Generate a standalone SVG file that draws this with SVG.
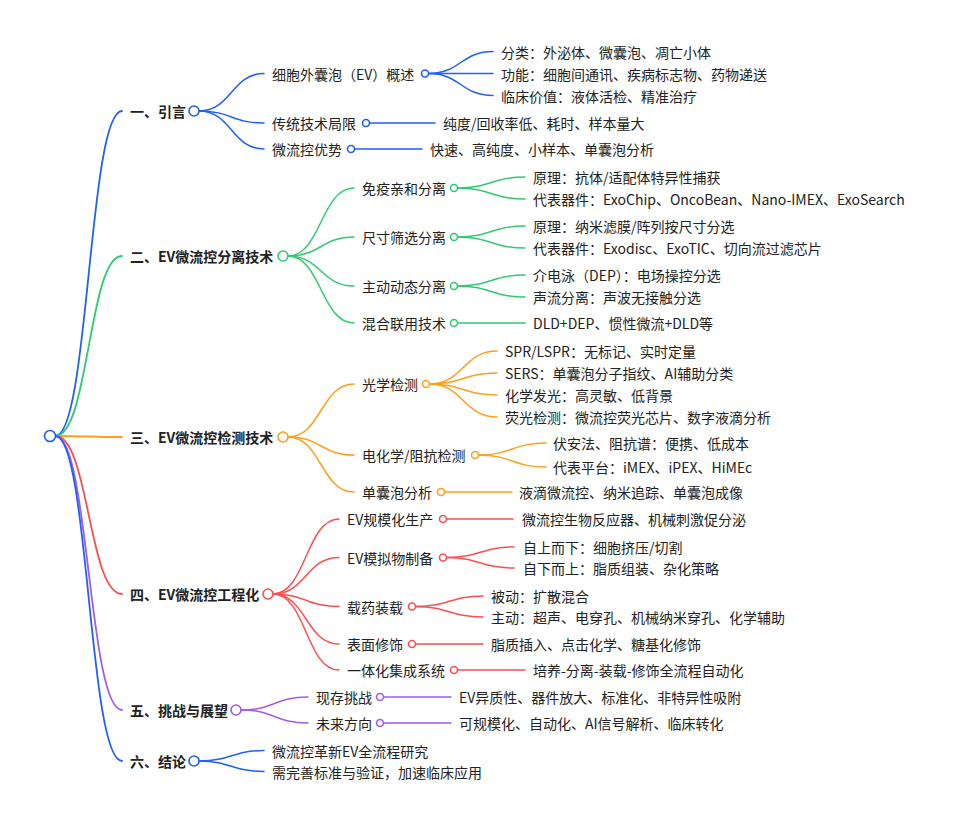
<svg xmlns="http://www.w3.org/2000/svg" width="955" height="824" viewBox="0 0 955 824">
<style>
text{font-family:"Noto Sans CJK SC","Noto Sans",sans-serif;fill:#222;dominant-baseline:central}
.l1{font-size:14px;font-weight:bold}
.l2{font-size:14px}
path,line{fill:none;stroke-linecap:round}
.m{stroke-width:1.8}
.s{stroke-width:1.5}
circle{fill:#fff;stroke-width:1.6}
.b{stroke:#1f5fff}.g{stroke:#2ecc6e}.o{stroke:#ff9f1a}.r{stroke:#ff4d4f}.p{stroke:#a259f0}
</style>
<rect width="955" height="824" fill="#fff"/>
<g id="connectors">
<path class="m b" d="M55.5,436 C88.75,436 88.75,111 122,111"/>
<path class="m g" d="M55.5,436 C88.75,436 88.75,256 122,256"/>
<path class="m o" d="M55.5,436 C88.75,436 88.75,437 122,437"/>
<path class="m r" d="M55.5,436 C88.75,436 88.75,594 122,594"/>
<path class="m p" d="M55.5,436 C88.75,436 88.75,710 122,710"/>
<path class="m b" d="M55.5,436 C88.75,436 88.75,761 122,761"/>
<path class="s b" d="M199,111 C231.5,111 231.5,73.5 264,73.5"/>
<path class="s b" d="M199,111 C231.5,111 231.5,123 264,123"/>
<path class="s b" d="M199,111 C231.5,111 231.5,149 264,149"/>
<path class="s g" d="M288,256 C321,256 321,188 354,188"/>
<path class="s g" d="M288,256 C321,256 321,237 354,237"/>
<path class="s g" d="M288,256 C321,256 321,286 354,286"/>
<path class="s g" d="M288,256 C321,256 321,323 354,323"/>
<path class="s o" d="M288,437 C321,437 321,384 354,384"/>
<path class="s o" d="M288,437 C321,437 321,455 354,455"/>
<path class="s o" d="M288,437 C321,437 321,492 354,492"/>
<path class="s r" d="M273,594 C306,594 306,519 339,519"/>
<path class="s r" d="M273,594 C306,594 306,557.5 339,557.5"/>
<path class="s r" d="M273,594 C306,594 306,606.5 339,606.5"/>
<path class="s r" d="M273,594 C306,594 306,644 339,644"/>
<path class="s r" d="M273,594 C306,594 306,670 339,670"/>
<path class="s p" d="M241,710 C274.5,710 274.5,697 308,697"/>
<path class="s p" d="M241,710 C274.5,710 274.5,723 308,723"/>
<path class="s b" d="M199,761 C231.5,761 231.5,750.5 264,750.5"/>
<path class="s b" d="M199,761 C231.5,761 231.5,771.5 264,771.5"/>
<path class="s b" d="M428.5,73.5 C460.75,73.5 460.75,51.5 493,51.5"/>
<path class="s b" d="M428.5,73.5 C460.75,73.5 460.75,73.5 493,73.5"/>
<path class="s b" d="M428.5,73.5 C460.75,73.5 460.75,95.5 493,95.5"/>
<line class="s b" x1="369.5" y1="123" x2="435" y2="123"/>
<line class="s b" x1="354.5" y1="149" x2="422" y2="149"/>
<path class="s g" d="M457.5,188 C491.25,188 491.25,177 525,177"/>
<path class="s g" d="M457.5,188 C491.25,188 491.25,199 525,199"/>
<path class="s g" d="M457.5,237 C491.25,237 491.25,226 525,226"/>
<path class="s g" d="M457.5,237 C491.25,237 491.25,248 525,248"/>
<path class="s g" d="M457.5,286 C491.25,286 491.25,275 525,275"/>
<path class="s g" d="M457.5,286 C491.25,286 491.25,297 525,297"/>
<line class="s g" x1="457.5" y1="323" x2="525" y2="323"/>
<path class="s o" d="M429.5,384 C463.25,384 463.25,351 497,351"/>
<path class="s o" d="M429.5,384 C463.25,384 463.25,373 497,373"/>
<path class="s o" d="M429.5,384 C463.25,384 463.25,395 497,395"/>
<path class="s o" d="M429.5,384 C463.25,384 463.25,417 497,417"/>
<path class="s o" d="M478.5,455 C512.25,455 512.25,443 546,443"/>
<path class="s o" d="M478.5,455 C512.25,455 512.25,467 546,467"/>
<line class="s o" x1="444.5" y1="492" x2="512" y2="492"/>
<line class="s r" x1="446.5" y1="519" x2="513" y2="519"/>
<path class="s r" d="M446.5,557.5 C480.25,557.5 480.25,547 514,547"/>
<path class="s r" d="M446.5,557.5 C480.25,557.5 480.25,568 514,568"/>
<path class="s r" d="M415.5,606.5 C449.25,606.5 449.25,596 483,596"/>
<path class="s r" d="M415.5,606.5 C449.25,606.5 449.25,617 483,617"/>
<line class="s r" x1="415.5" y1="644" x2="483" y2="644"/>
<line class="s r" x1="457.5" y1="670" x2="525" y2="670"/>
<line class="s p" x1="383.5" y1="697" x2="451" y2="697"/>
<line class="s p" x1="383.5" y1="723" x2="451" y2="723"/>
</g>
<g id="root"><circle class="b" cx="50" cy="436" r="5.5"/></g>
<g id="n1"><text class="l1" x="130" y="111">一、引言</text><circle class="b" cx="194" cy="111" r="5"/></g>
<g id="n1-1"><text class="l2" x="272" y="73.5">细胞外囊泡（EV）概述</text><circle class="b" cx="425" cy="73.5" r="3.5"/></g>
<g id="n1-1-1"><text class="l2" x="501" y="51.5">分类：外泌体、微囊泡、凋亡小体</text></g>
<g id="n1-1-2"><text class="l2" x="501" y="73.5">功能：细胞间通讯、疾病标志物、药物递送</text></g>
<g id="n1-1-3"><text class="l2" x="501" y="95.5">临床价值：液体活检、精准治疗</text></g>
<g id="n1-2"><text class="l2" x="272" y="123">传统技术局限</text><circle class="b" cx="366" cy="123" r="3.5"/></g>
<g id="n1-2-1"><text class="l2" x="443" y="123">纯度/回收率低、耗时、样本量大</text></g>
<g id="n1-3"><text class="l2" x="272" y="149">微流控优势</text><circle class="b" cx="351" cy="149" r="3.5"/></g>
<g id="n1-3-1"><text class="l2" x="430" y="149">快速、高纯度、小样本、单囊泡分析</text></g>

<g id="n2"><text class="l1" x="130" y="256">二、EV微流控分离技术</text><circle class="g" cx="283" cy="256" r="5"/></g>
<g id="n2-1"><text class="l2" x="362" y="188">免疫亲和分离</text><circle class="g" cx="454" cy="188" r="3.5"/></g>
<g id="n2-1-1"><text class="l2" x="533" y="177">原理：抗体/适配体特异性捕获</text></g>
<g id="n2-1-2"><text class="l2" x="533" y="199">代表器件：ExoChip、OncoBean、Nano-IMEX、ExoSearch</text></g>
<g id="n2-2"><text class="l2" x="362" y="237">尺寸筛选分离</text><circle class="g" cx="454" cy="237" r="3.5"/></g>
<g id="n2-2-1"><text class="l2" x="533" y="226">原理：纳米滤膜/阵列按尺寸分选</text></g>
<g id="n2-2-2"><text class="l2" x="533" y="248">代表器件：Exodisc、ExoTIC、切向流过滤芯片</text></g>
<g id="n2-3"><text class="l2" x="362" y="286">主动动态分离</text><circle class="g" cx="454" cy="286" r="3.5"/></g>
<g id="n2-3-1"><text class="l2" x="533" y="275">介电泳（DEP）：电场操控分选</text></g>
<g id="n2-3-2"><text class="l2" x="533" y="297">声流分离：声波无接触分选</text></g>
<g id="n2-4"><text class="l2" x="362" y="323">混合联用技术</text><circle class="g" cx="454" cy="323" r="3.5"/></g>
<g id="n2-4-1"><text class="l2" x="533" y="323">DLD+DEP、惯性微流+DLD等</text></g>

<g id="n3"><text class="l1" x="130" y="437">三、EV微流控检测技术</text><circle class="o" cx="283" cy="437" r="5"/></g>
<g id="n3-1"><text class="l2" x="362" y="384">光学检测</text><circle class="o" cx="426" cy="384" r="3.5"/></g>
<g id="n3-1-1"><text class="l2" x="505" y="351">SPR/LSPR：无标记、实时定量</text></g>
<g id="n3-1-2"><text class="l2" x="505" y="373">SERS：单囊泡分子指纹、AI辅助分类</text></g>
<g id="n3-1-3"><text class="l2" x="505" y="395">化学发光：高灵敏、低背景</text></g>
<g id="n3-1-4"><text class="l2" x="505" y="417">荧光检测：微流控荧光芯片、数字液滴分析</text></g>
<g id="n3-2"><text class="l2" x="362" y="455">电化学/阻抗检测</text><circle class="o" cx="475" cy="455" r="3.5"/></g>
<g id="n3-2-1"><text class="l2" x="553" y="443">伏安法、阻抗谱：便携、低成本</text></g>
<g id="n3-2-2"><text class="l2" x="553" y="467">代表平台：iMEX、iPEX、HiMEc</text></g>
<g id="n3-3"><text class="l2" x="362" y="492">单囊泡分析</text><circle class="o" cx="441" cy="492" r="3.5"/></g>
<g id="n3-3-1"><text class="l2" x="519" y="492">液滴微流控、纳米追踪、单囊泡成像</text></g>

<g id="n4"><text class="l1" x="130" y="594">四、EV微流控工程化</text><circle class="r" cx="268" cy="594" r="5"/></g>
<g id="n4-1"><text class="l2" x="347" y="519">EV规模化生产</text><circle class="r" cx="443" cy="519" r="3.5"/></g>
<g id="n4-1-1"><text class="l2" x="522" y="519">微流控生物反应器、机械刺激促分泌</text></g>
<g id="n4-2"><text class="l2" x="347" y="557.5">EV模拟物制备</text><circle class="r" cx="443" cy="557.5" r="3.5"/></g>
<g id="n4-2-1"><text class="l2" x="523" y="547">自上而下：细胞挤压/切割</text></g>
<g id="n4-2-2"><text class="l2" x="523" y="568">自下而上：脂质组装、杂化策略</text></g>
<g id="n4-3"><text class="l2" x="347" y="606.5">载药装载</text><circle class="r" cx="412" cy="606.5" r="3.5"/></g>
<g id="n4-3-1"><text class="l2" x="491" y="596">被动：扩散混合</text></g>
<g id="n4-3-2"><text class="l2" x="491" y="617">主动：超声、电穿孔、机械纳米穿孔、化学辅助</text></g>
<g id="n4-4"><text class="l2" x="347" y="644">表面修饰</text><circle class="r" cx="412" cy="644" r="3.5"/></g>
<g id="n4-4-1"><text class="l2" x="491" y="644">脂质插入、点击化学、糖基化修饰</text></g>
<g id="n4-5"><text class="l2" x="347" y="670">一体化集成系统</text><circle class="r" cx="454" cy="670" r="3.5"/></g>
<g id="n4-5-1"><text class="l2" x="533" y="670">培养-分离-装载-修饰全流程自动化</text></g>

<g id="n5"><text class="l1" x="130" y="710">五、挑战与展望</text><circle class="p" cx="236" cy="710" r="5"/></g>
<g id="n5-1"><text class="l2" x="316" y="697">现存挑战</text><circle class="p" cx="380" cy="697" r="3.5"/></g>
<g id="n5-1-1"><text class="l2" x="459" y="697">EV异质性、器件放大、标准化、非特异性吸附</text></g>
<g id="n5-2"><text class="l2" x="316" y="723">未来方向</text><circle class="p" cx="380" cy="723" r="3.5"/></g>
<g id="n5-2-1"><text class="l2" x="459" y="723">可规模化、自动化、AI信号解析、临床转化</text></g>

<g id="n6"><text class="l1" x="130" y="761">六、结论</text><circle class="b" cx="194" cy="761" r="5"/></g>
<g id="n6-1"><text class="l2" x="272" y="750.5">微流控革新EV全流程研究</text></g>
<g id="n6-2"><text class="l2" x="272" y="771.5">需完善标准与验证，加速临床应用</text></g>
</svg>
